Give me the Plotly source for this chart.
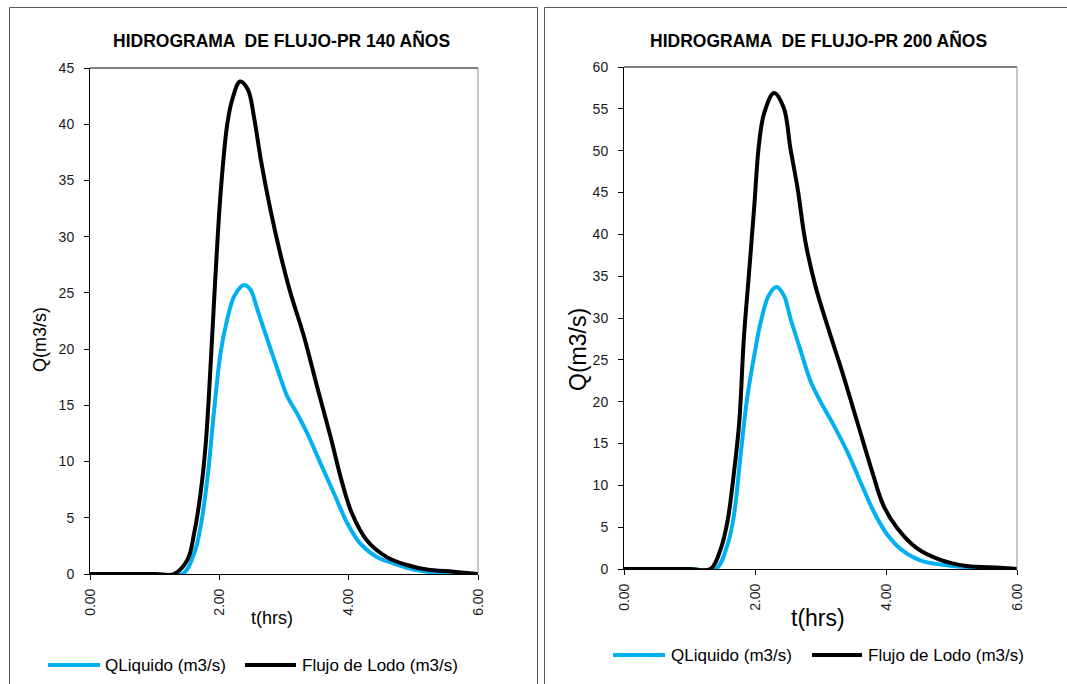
import plotly.graph_objects as go

W, H = 1067, 684

# ---- data: hydrographs (time in hours, discharge in m3/s) ----
t_140_liq = [0.0, 0.5, 1.0, 1.43, 1.61, 1.71, 1.82, 1.92, 2.02, 2.12, 2.23, 2.38, 2.48, 2.59,
             2.74, 2.90, 3.05, 3.20, 3.36, 3.56, 3.77, 3.98, 4.18, 4.44, 4.69, 5.00, 5.47, 6.0]
q_140_liq = [0, 0, 0, 0, 1.8, 4.2, 8.7, 14.6, 19.7, 22.6, 24.7, 25.7, 25.3, 23.5,
             20.9, 18.2, 15.8, 14.3, 12.5, 9.9, 7.2, 4.5, 2.7, 1.5, 0.95, 0.4, 0.05, 0]

t_140_lodo = [0.0, 0.5, 1.0, 1.30, 1.51, 1.61, 1.71, 1.79, 1.87, 1.94, 2.02, 2.12, 2.20, 2.32,
              2.44, 2.54, 2.64, 2.79, 2.95, 3.10, 3.31, 3.51, 3.72, 3.90, 4.05, 4.28, 4.59,
              4.90, 5.21, 5.62, 6.0]
q_140_lodo = [0, 0, 0, 0, 1.3, 3.6, 7.2, 11.6, 19.1, 26.5, 33.9, 39.9, 42.2, 43.8,
              43.1, 40.5, 36.9, 32.4, 28.3, 25.0, 21.1, 16.7, 12.2, 8.1, 5.4, 3.0, 1.5,
              0.8, 0.4, 0.2, 0]

t_200_liq = [0.0, 0.5, 1.0, 1.40, 1.58, 1.68, 1.78, 1.88, 1.99, 2.09, 2.21, 2.33, 2.44, 2.54,
             2.70, 2.85, 3.00, 3.20, 3.41, 3.61, 3.81, 4.02, 4.27, 4.57, 4.98, 5.49, 6.0]
q_200_liq = [0, 0, 0, 0, 2.9, 6.5, 13.6, 20.4, 25.6, 29.6, 32.7, 33.7, 32.7, 30.0,
             26.0, 22.4, 20.0, 17.2, 14.0, 10.4, 6.9, 4.1, 2.1, 0.9, 0.4, 0.1, 0]

t_200_lodo = [0.0, 0.5, 1.0, 1.32, 1.48, 1.58, 1.68, 1.76, 1.83, 1.91, 1.99, 2.06, 2.14, 2.29,
              2.44, 2.54, 2.65, 2.77, 2.92, 3.10, 3.33, 3.56, 3.79, 3.96, 4.17, 4.47, 4.83,
              5.23, 5.74, 6.0]
q_200_lodo = [0, 0, 0, 0, 2.5, 5.7, 11.6, 17.6, 27.6, 35.5, 43.5, 50.7, 54.5, 56.9,
              55.1, 50.3, 45.5, 39.1, 33.9, 29.2, 23.6, 17.6, 11.6, 7.6, 4.9, 2.5, 1.1,
              0.36, 0.15, 0]

x_tick_vals = [0, 2, 4, 6]
x_tick_text = ["0.00", "2.00", "4.00", "6.00"]

titles = ["HIDROGRAMA  DE FLUJO-PR 140 AÑOS", "HIDROGRAMA  DE FLUJO-PR 200 AÑOS"]
series_names = ["QLiquido (m3/s)", "Flujo de Lodo (m3/s)"]

BLUE = "#00B0F0"
BLACK = "#000000"
FONT = "Arial, Liberation Sans, sans-serif"


def px(x):
    return x / W


def py(y):
    return 1 - y / H


fig = go.Figure()

panels = [
    dict(xa="x", ya="y", liq=(t_140_liq, q_140_liq), lodo=(t_140_lodo, q_140_lodo)),
    dict(xa="x2", ya="y2", liq=(t_200_liq, q_200_liq), lodo=(t_200_lodo, q_200_lodo)),
]
for p in panels:
    for (tt, qq), color, name in ((p["liq"], BLUE, series_names[0]),
                                  (p["lodo"], BLACK, series_names[1])):
        fig.add_trace(go.Scatter(
            x=tt, y=qq, mode="lines", name=name, showlegend=False,
            line=dict(color=color, width=4, shape="spline", smoothing=1.0),
            xaxis=p["xa"], yaxis=p["ya"],
        ))

# plot-area placement in pixels: (left, right, top, bottom)
areas = [(90, 478, 68, 574), (624, 1017, 67, 569)]
y_max = [45, 60]

axis_common = dict(
    showgrid=False, zeroline=False, showline=True, linecolor="black", linewidth=1,
    ticks="outside", ticklen=5, tickcolor="black", tickwidth=1, automargin=False,
    tickfont=dict(family=FONT, size=14, color="#1a1a1a"),
)

layout_axes = {}
for i, (l, r, t, b) in enumerate(areas):
    sx = "" if i == 0 else str(i + 1)
    layout_axes["xaxis" + sx] = dict(
        axis_common, domain=[px(l), px(r)], range=[0, 6],
        tickvals=x_tick_vals, ticktext=x_tick_text, tickangle=-90,
        anchor="y" + sx, ticklabelstandoff=3,
    )
    layout_axes["yaxis" + sx] = dict(
        axis_common, domain=[py(b), py(t)], range=[0, y_max[i]], dtick=5,
        anchor="x" + sx, ticklabelstandoff=7,
    )

shapes = []
# chart-area frames
shapes.append(dict(type="rect", xref="paper", yref="paper",
                   x0=px(9.5), x1=px(537.5), y0=py(700), y1=py(7.5),
                   line=dict(color="#5a5a5a", width=1)))
shapes.append(dict(type="rect", xref="paper", yref="paper",
                   x0=px(544.5), x1=px(1080), y0=py(700), y1=py(7.5),
                   line=dict(color="#5a5a5a", width=1)))
# plot-area top and right edges
for i in range(2):
    sx = "" if i == 0 else str(i + 1)
    shapes.append(dict(type="line", xref="x%s domain" % sx, yref="y%s domain" % sx,
                       x0=0, x1=1, y0=1, y1=1, line=dict(color="black", width=1)))
    shapes.append(dict(type="line", xref="x%s domain" % sx, yref="y%s domain" % sx,
                       x0=1, x1=1, y0=0, y1=1, line=dict(color="#8c8c8c", width=1)))

annotations = []
title_pos = [(281, 40), (818, 40)]
xtitle = [(272, 618, 18), (818, 618, 23)]
ytitle = [(40, 340, 18), (578, 350, 23)]
for i in range(2):
    annotations.append(dict(text="<b>%s</b>" % titles[i], xref="paper", yref="paper",
                            x=px(title_pos[i][0]), y=py(title_pos[i][1]),
                            xanchor="center", yanchor="middle", showarrow=False,
                            font=dict(family=FONT, size=17.5, color="black")))
    annotations.append(dict(text="t(hrs)", xref="paper", yref="paper",
                            x=px(xtitle[i][0]), y=py(xtitle[i][1]),
                            xanchor="center", yanchor="middle", showarrow=False,
                            font=dict(family=FONT, size=xtitle[i][2], color="black")))
    annotations.append(dict(text="Q(m3/s)", xref="paper", yref="paper", textangle=-90,
                            x=px(ytitle[i][0]), y=py(ytitle[i][1]),
                            xanchor="center", yanchor="middle", showarrow=False,
                            font=dict(family=FONT, size=ytitle[i][2], color="black")))

# legends: sample line + label for each series
legend_rows = [
    (665, [(48, 100, 103, BLUE, series_names[0]), (245, 296, 300, BLACK, series_names[1])]),
    (655, [(613, 665, 669, BLUE, series_names[0]), (812, 862, 866, BLACK, series_names[1])]),
]
for ly, items in legend_rows:
    for x0, x1, xt, color, name in items:
        shapes.append(dict(type="line", xref="paper", yref="paper",
                           x0=px(x0), x1=px(x1), y0=py(ly), y1=py(ly),
                           line=dict(color=color, width=4)))
        annotations.append(dict(text=name, xref="paper", yref="paper",
                                x=px(xt), y=py(ly), xanchor="left", yanchor="middle",
                                showarrow=False,
                                font=dict(family=FONT, size=17, color="black")))

fig.update_layout(
    template="none",
    width=W, height=H, margin=dict(l=0, r=0, t=0, b=0, pad=0, autoexpand=False),
    paper_bgcolor="white", plot_bgcolor="white",
    showlegend=False, shapes=shapes, annotations=annotations,
    **layout_axes,
)

# the page body gets no margin so the figure fills the window exactly
fig.write_html(
    "out.html",
    post_script="document.body.style.margin='0';document.body.style.overflow='hidden';",
)
